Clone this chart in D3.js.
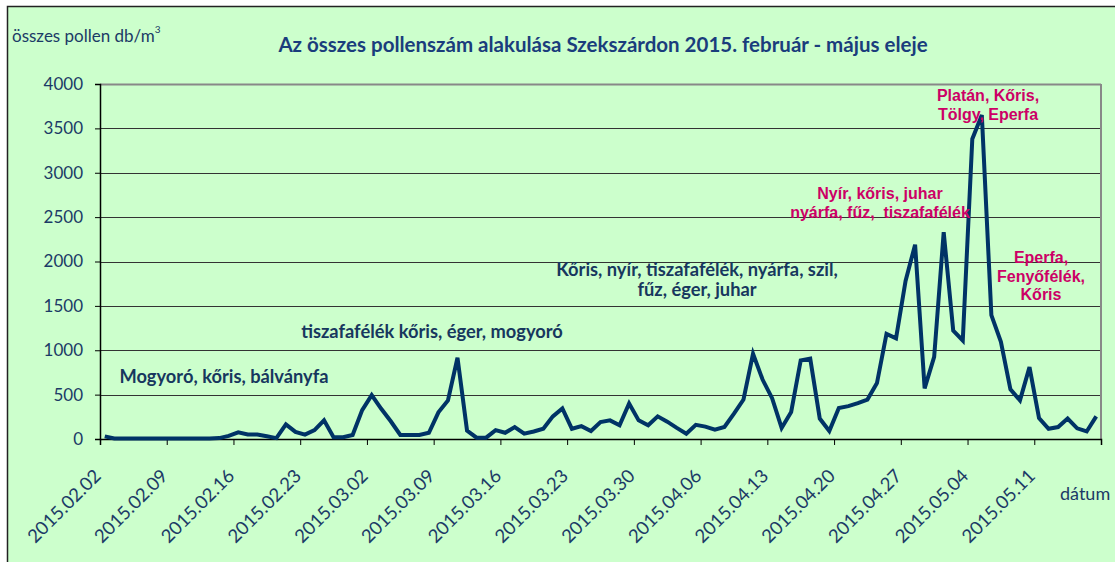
<!DOCTYPE html>
<html>
<head>
<meta charset="utf-8">
<script src="https://cdn.jsdelivr.net/npm/d3@7"></script>
<style>
  body { margin: 0; background: #fff; }
  .axis text { font-family: Lato, "Open Sans", sans-serif; fill: #1b3a66; }
  .note { font-family: Lato, "Open Sans", sans-serif; font-weight: bold; fill: #17375e; font-size: 18.3px; }
  .note2 { font-family: "Liberation Sans", Arial, sans-serif; font-weight: bold; fill: #cc0066; font-size: 16px; white-space: pre; }
</style>
</head>
<body>
<div id="chart"></div>
<script>
// first day of the series, one value per day
var firstDay = "2015.02.02";
var lastDay = "2015.05.17";

// összes pollen db/m3, daily
var pollen = [
  30, 5, 5, 5, 5, 5, 5, 5, 5, 5,
  5, 5, 10, 35, 75, 50, 50, 30, 10, 165,
  80, 50, 100, 210, 20, 20, 45, 325, 495, 340,
  200, 45, 45, 45, 70, 300, 435, 915, 95, 15,
  15, 100, 70, 135, 60, 85, 115, 255, 345, 115,
  145, 90, 190, 210, 155, 400, 210, 155, 255, 195,
  125, 60, 160, 140, 105, 135, 285, 445, 960, 670,
  460, 125, 305, 885, 905, 230, 90, 350, 370, 405,
  445, 630, 1185, 1135, 1780, 2190, 570, 925, 2330, 1220,
  1110, 3380, 3650, 1395, 1095, 560, 435, 810, 235, 115,
  135, 230, 120, 85, 255
];

var yTicks = [0, 500, 1000, 1500, 2000, 2500, 3000, 3500, 4000];

var titleText = "Az összes pollenszám alakulása Szekszárdon 2015. február - május eleje";
var yLabel = "összes pollen db/m";
var xLabel = "dátum";

var blueNotes = [
  ["Mogyoró, kőris, bálványfa"],
  ["tiszafafélék kőris, éger, mogyoró"],
  ["Kőris, nyír, tiszafafélék, nyárfa, szil,", "fűz, éger, juhar"]
];
var redNotes = [
  ["Nyír, kőris, juhar", "nyárfa, fűz,  tiszafafélék"],
  ["Platán, Kőris,", "Tölgy, Eperfa"],
  ["Eperfa,", "Fenyőfélék,", "Kőris"]
];

function drawChart() {
  var W = 1115, H = 562;
  var mLeft = 100, mRight = 1101, mTop = 84, mBottom = 439;

  var parse = d3.timeParse("%Y.%m.%d");
  var fmt = d3.timeFormat("%Y.%m.%d");
  var d0 = parse(firstDay);
  var dEnd = d3.timeDay.offset(parse(lastDay), 1);

  var data = pollen.map(function (v, i) {
    return { date: d3.timeHour.offset(d3.timeDay.offset(d0, i), 12), value: v };
  });

  var x = d3.scaleTime().domain([d0, dEnd]).range([mLeft, mRight]);
  var y = d3.scaleLinear().domain([0, 4000]).range([mBottom, mTop]);

  var svg = d3.select("#chart").append("svg")
    .attr("width", W)
    .attr("height", H);

  // chart area
  svg.append("rect")
    .attr("x", 7.5).attr("y", 6.5)
    .attr("width", W + 10).attr("height", H + 10)
    .attr("fill", "#ccffcc")
    .attr("stroke", "#222")
    .attr("stroke-width", 1.5);

  // gridlines
  svg.append("g")
    .selectAll("line")
    .data(yTicks)
    .enter().append("line")
    .attr("x1", mLeft).attr("x2", mRight)
    .attr("y1", function (d) { return Math.round(y(d)) + 0.5; })
    .attr("y2", function (d) { return Math.round(y(d)) + 0.5; })
    .attr("stroke", function (d) { return d == 4000 ? "#888" : "#333"; })
    .attr("stroke-width", function (d) { return d == 4000 ? 2 : 1; });

  // right border of the plot
  svg.append("line")
    .attr("x1", mRight).attr("x2", mRight)
    .attr("y1", mTop).attr("y2", mBottom)
    .attr("stroke", "#888").attr("stroke-width", 2);

  // y axis
  var yAxis = d3.axisLeft(y).tickValues(yTicks).tickSize(5).tickPadding(12)
    .tickFormat(d3.format("d"));
  var gy = svg.append("g")
    .attr("class", "axis")
    .attr("transform", "translate(" + mLeft + ",0)")
    .call(yAxis);
  gy.selectAll("text").style("font-size", "17px");
  gy.selectAll("line").attr("stroke", "#000");
  gy.select(".domain").attr("stroke", "#000").attr("stroke-width", 1.5);

  // x axis
  var weekTicks = d3.timeMonday.range(d0, d3.timeDay.offset(dEnd, 1));
  var xAxis = d3.axisBottom(x).tickValues(weekTicks).tickSize(6).tickFormat("");
  var gx = svg.append("g")
    .attr("class", "axis")
    .attr("transform", "translate(0," + mBottom + ")")
    .call(xAxis);
  gx.selectAll("line").attr("stroke", "#000");
  gx.select(".domain").attr("stroke", "#000").attr("stroke-width", 1.5);

  // rotated date labels
  svg.append("g")
    .attr("class", "axis")
    .selectAll("text")
    .data(weekTicks.filter(function (d) { return d < dEnd; }))
    .enter().append("text")
    .attr("transform", function (d) { return "translate(" + (x(d) - 7) + ",468) rotate(-45)"; })
    .attr("text-anchor", "end")
    .attr("dy", "0.7em")
    .style("font-size", "18.5px")
    .text(function (d) { return fmt(d); });

  // line
  var line = d3.line()
    .x(function (d) { return x(d.date); })
    .y(function (d) { return y(d.value); });

  svg.append("path")
    .datum(data)
    .attr("d", line)
    .attr("fill", "none")
    .attr("stroke", "#003366")
    .attr("stroke-width", 4)
    .attr("stroke-linejoin", "miter");

  // title
  svg.append("text")
    .attr("x", 603).attr("y", 52)
    .attr("text-anchor", "middle")
    .style("font-family", "Lato, 'Open Sans', sans-serif")
    .style("font-weight", "bold")
    .style("font-size", "20.5px")
    .style("fill", "#1a3d7c")
    .text(titleText);

  // axis titles
  var yl = svg.append("text")
    .attr("x", 12).attr("y", 42)
    .style("font-family", "Lato, 'Open Sans', sans-serif")
    .style("font-size", "17px")
    .style("fill", "#1b3a66")
    .text(yLabel);
  yl.append("tspan").attr("dy", -9).style("font-size", "10px").text("3");

  svg.append("text")
    .attr("x", 1060).attr("y", 500)
    .style("font-family", "Lato, 'Open Sans', sans-serif")
    .style("font-size", "18px")
    .style("fill", "#1b3a66")
    .text(xLabel);

  // annotations
  var bluePos = [[224, 383], [432, 338], [697, 276]];
  blueNotes.forEach(function (lines, k) {
    var t = svg.append("text").attr("class", "note").attr("text-anchor", "middle");
    lines.forEach(function (s, j) {
      t.append("tspan").attr("x", bluePos[k][0]).attr("y", bluePos[k][1] + j * 20).text(s);
    });
  });

  var redPos = [[880, 199], [988, 101], [1041, 263]];
  redNotes.forEach(function (lines, k) {
    var t = svg.append("text").attr("class", "note2").attr("text-anchor", "middle");
    lines.forEach(function (s, j) {
      t.append("tspan").attr("x", redPos[k][0]).attr("y", redPos[k][1] + j * 18.5).text(s);
    });
  });
}

drawChart();
</script>
</body>
</html>
